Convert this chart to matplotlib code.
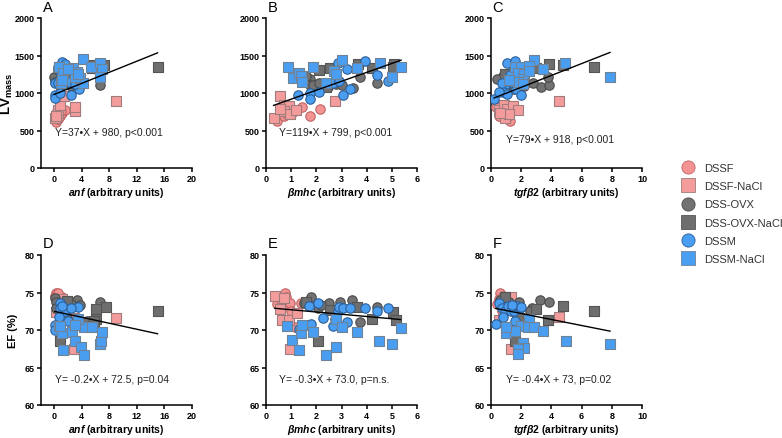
import matplotlib
matplotlib.use("Agg")
import matplotlib.pyplot as plt
from matplotlib.lines import Line2D

plt.rcParams['font.family'] = ['Liberation Sans', 'DejaVu Sans']
plt.rcParams['mathtext.fontset'] = 'custom'
plt.rcParams['mathtext.it'] = 'Liberation Sans:italic:bold'
plt.rcParams['mathtext.bf'] = 'Liberation Sans:bold'
plt.rcParams['mathtext.rm'] = 'Liberation Sans:bold'

groups = ['DSSF', 'DSSF-NaCl', 'DSS-OVX', 'DSS-OVX-NaCl', 'DSSM', 'DSSM-NaCl']
markers = ['o', 's', 'o', 's', 'o', 's']
fills = ['#F39393', '#F49C9C', '#727272', '#6E6E6E', '#4A9EF2', '#4A9EF2']
edges = ['#C06464', '#A07C7C', '#4A4A4A', '#555555', '#2D5F97', '#6F8296']

# panel A: anf vs LV mass
anf_lv_x = [[0.3, 0.6, 0.9, 1.2, 1.6, 0.4, 1.0, 0.2],
            [0.1, 0.5, 0.5, 0.8, 1.5, 3.0, 3.0, 9.0, 0.3],
            [0.0, 0.2, 0.5, 1.0, 2.5, 3.2, 3.5, 6.7, 1.8, 0.8, 2.9],
            [15.0, 5.8, 6.2, 7.3, 0.7, 2.8, 5.5],
            [1.1, 1.6, 0.6, 0.1, 0.1, 0.2, 0.9, 2.5, 3.6, 2.2, 1.3, 1.8, 0.5, 3.0, 1.0],
            [4.2, 0.7, 1.3, 2.8, 3.3, 3.8, 5.4, 6.7, 7.0, 6.7, 4.2, 1.0, 3.0, 3.5, 2.0, 1.1]]
anf_lv_y = [[620, 650, 700, 730, 780, 760, 760, 700],
            [670, 740, 780, 840, 965, 760, 820, 890, 700],
            [1220, 1150, 1310, 1230, 1090, 1250, 1230, 1110, 1140, 1100, 1120],
            [1350, 1370, 1340, 1380, 1350, 1220, 1330],
            [1420, 1390, 1350, 1130, 980, 930, 1000, 980, 1050, 1150, 1240, 1300, 1140, 1120, 1250],
            [1450, 1350, 1270, 1340, 1280, 1200, 1350, 1400, 1320, 1210, 1130, 1140, 1210, 1250, 1320, 1170]]

# panel B: bmhc vs LV mass
bmhc_lv_x = [[0.44, 0.73, 0.94, 1.07, 1.43, 1.76, 2.14, 0.85],
             [0.3, 0.55, 0.7, 0.9, 0.7, 0.94, 1.2, 2.73, 0.57],
             [1.76, 1.57, 1.74, 1.86, 2.1, 2.47, 2.8, 3.0, 3.44, 3.73, 4.42, 1.4],
             [2.1, 2.56, 3.66, 4.23, 5.08, 5.04, 2.4],
             [1.27, 1.76, 1.76, 2.1, 2.67, 2.9, 2.85, 3.2, 3.06, 3.32, 3.92, 4.42, 4.84],
             [0.86, 1.06, 1.32, 1.4, 1.43, 1.86, 2.37, 2.7, 2.8, 3.0, 3.6, 4.52, 5.0, 5.37]]
bmhc_lv_y = [[625, 700, 745, 753, 820, 687, 789, 720],
             [669, 966, 842, 824, 766, 722, 775, 890, 789],
             [1187, 1222, 1107, 1107, 1134, 1076, 1120, 1112, 1063, 1218, 1134, 1180],
             [1307, 1333, 1386, 1329, 1386, 1342, 1085],
             [979, 996, 921, 1010, 1134, 1165, 1400, 1320, 979, 1054, 1422, 1240, 1160],
             [1351, 1200, 1271, 1222, 1152, 1342, 1130, 1298, 1254, 1444, 1329, 1400, 1209, 1351]]

# panel C: tgfb2 vs LV mass
tgf_lv_x = [[0.3, 0.6, 0.9, 1.26, 0.8, 0.5, 1.1],
            [0.5, 0.86, 1.04, 1.48, 1.77, 0.93, 4.48, 1.2, 0.6],
            [2.8, 3.29, 3.86, 3.75, 0.77, 0.4, 1.2, 1.5, 0.9, 2.2],
            [2.98, 3.82, 4.75, 6.8, 1.5, 0.9],
            [1.04, 1.57, 1.26, 1.0, 0.82, 1.08, 1.66, 1.97, 1.57, 0.2, 0.5, 1.3, 0.7],
            [2.87, 1.59, 1.99, 2.52, 3.44, 4.92, 7.88, 1.81, 2.21, 2.14, 1.81, 2.1, 1.2, 2.5]]
tgf_lv_y = [[810, 700, 740, 622, 760, 690, 690],
            [780, 840, 787, 822, 773, 667, 889, 720, 730],
            [1133, 1076, 1111, 1218, 1222, 1190, 1100, 1050, 1150, 1100],
            [1329, 1382, 1378, 1351, 1300, 1250],
            [1400, 1427, 1240, 1120, 1009, 987, 1053, 978, 1187, 920, 1010, 1150, 1130],
            [1445, 1343, 1351, 1356, 1320, 1396, 1213, 1267, 1253, 1187, 1142, 1120, 1180, 1300]]

# panel D: anf vs EF
anf_ef_x = [[0.3, 0.1, 0.8, 1.1, 0.6, 1.3, 0.5, 1.6],
            [0.3, 0.6, 2.9, 2.9, 9.0, 1.2, 1.8],
            [0.15, 0.3, 0.3, 3.3, 6.7, 2.5, 3.7, 4.7, 1.8],
            [0.8, 15.0, 6.1, 7.5, 6.1, 5.8, 1.9],
            [0.8, 0.8, 1.6, 3.5, 2.4, 2.0, 0.7, 0.1, 0.1, 1.2],
            [0.7, 1.1, 1.3, 2.6, 3.0, 3.9, 4.4, 4.3, 5.5, 6.7, 6.8, 7.0, 3.4, 3.1, 0.9]]
anf_ef_y = [[75.0, 74.6, 74.2, 74.4, 73.8, 73.7, 74.9, 73.4],
            [72.4, 72.9, 71.6, 67.5, 71.6, 74.2, 73.6],
            [74.3, 73.7, 73.0, 74.0, 73.8, 73.5, 73.4, 71.2, 71.6],
            [68.5, 72.5, 71.5, 73.1, 72.8, 71.2, 73.9],
            [73.6, 73.0, 72.5, 73.1, 73.0, 71.2, 71.7, 70.7, 70.0, 73.2],
            [70.6, 69.6, 67.3, 69.8, 68.6, 67.7, 66.7, 70.4, 70.4, 68.1, 68.5, 69.8, 71.5, 70.7, 70.5]]

# panel E: bmhc vs EF
bmhc_ef_x = [[0.44, 0.7, 0.75, 0.8, 0.95, 1.0, 1.15, 1.4, 0.6],
             [0.35, 0.55, 0.65, 0.7, 0.9, 0.95, 1.25],
             [1.5, 1.65, 1.8, 2.05, 2.5, 2.95, 3.4, 3.75, 4.4, 2.2],
             [2.05, 2.55, 3.6, 4.2, 5.05, 5.15, 1.6],
             [1.7, 1.8, 2.05, 2.25, 2.65, 2.75, 2.85, 2.9, 3.05, 3.2, 3.35, 3.95, 4.4, 4.85, 1.3],
             [0.85, 1.05, 1.3, 1.4, 1.45, 1.85, 2.4, 2.8, 2.8, 3.0, 3.6, 4.5, 5.0, 5.35]]
bmhc_ef_y = [[73.5, 73.4, 75.0, 74.4, 73.6, 72.5, 70.4, 73.6, 74.0],
             [74.6, 72.8, 71.4, 74.3, 71.4, 67.4, 72.3],
             [73.6, 73.9, 74.4, 73.0, 73.6, 73.8, 74.0, 71.1, 73.1, 73.3],
             [68.5, 72.7, 73.1, 71.5, 72.4, 71.3, 73.7],
             [73.2, 70.8, 73.6, 71.6, 70.5, 71.5, 72.6, 73.1, 73.0, 71.1, 73.0, 73.0, 72.5, 73.0, 70.1],
             [70.5, 68.7, 67.3, 69.6, 70.7, 69.8, 66.7, 67.7, 71.5, 70.4, 69.8, 68.5, 68.1, 70.3]]

# panel F: tgfb2 vs EF
tgf_ef_x = [[0.6, 0.8, 0.5, 1.0, 0.4, 0.7, 1.2, 1.6],
            [4.5, 1.3, 0.5, 1.3, 1.7, 0.8],
            [3.25, 3.86, 2.74, 1.88, 0.6, 1.2, 1.4, 2.6],
            [4.75, 2.96, 6.8, 3.8, 1.85, 1.6, 0.9],
            [0.3, 0.5, 0.7, 0.9, 1.1, 1.3, 1.5, 1.7, 1.9, 0.8, 1.6, 1.1, 2.0, 1.4],
            [2.54, 2.0, 2.47, 2.87, 3.47, 1.0, 1.6, 4.94, 7.88, 2.1, 2.2, 1.8, 1.8, 1.0]]
tgf_ef_y = [[75.0, 74.6, 74.2, 74.3, 73.5, 72.5, 74.0, 73.6],
            [71.7, 67.4, 71.4, 74.4, 72.4, 73.9],
            [74.0, 73.8, 72.9, 73.7, 74.0, 73.7, 73.2, 72.6],
            [73.2, 72.8, 72.5, 71.3, 71.6, 68.5, 74.4],
            [70.8, 73.6, 73.0, 72.6, 73.2, 72.6, 72.6, 73.2, 73.0, 71.7, 71.2, 70.1, 73.1, 73.3],
            [71.5, 70.5, 70.4, 70.4, 69.9, 69.6, 69.9, 68.5, 68.1, 68.3, 67.6, 67.4, 66.8, 70.4]]

# regression: slope, intercept, text
slopes = [37, 119, 79, -0.2, -0.3, -0.4]
intercepts = [980, 799, 918, 72.5, 73.0, 73]
eq_texts = ['Y=37•X + 980, p<0.001', 'Y=119•X + 799, p<0.001', 'Y=79•X + 918, p<0.001',
            'Y= -0.2•X + 72.5, p=0.04', 'Y= -0.3•X + 73.0, p=n.s.', 'Y= -0.4•X + 73, p=0.02']
letters = ['A', 'B', 'C', 'D', 'E', 'F']
xlabels = [r'$\mathit{anf}$ (arbitrary units)', r'$\mathit{βmhc}$ (arbitrary units)',
           r'$\mathit{tgfβ2}$ (arbitrary units)']

panels_x = [anf_lv_x, bmhc_lv_x, tgf_lv_x, anf_ef_x, bmhc_ef_x, tgf_ef_x]
panels_y = [anf_lv_y, bmhc_lv_y, tgf_lv_y, anf_ef_y, bmhc_ef_y, tgf_ef_y]

fig = plt.figure(figsize=(7.82, 4.39), dpi=100)
lefts = [41, 266, 491]
width = 151
tops = [19, 256]
height = 150
xlims = [(-1.9, 20), (0, 6), (0, 10)]
xticks = [[0, 4, 8, 12, 16, 20], [0, 1, 2, 3, 4, 5, 6], [0, 2, 4, 6, 8, 10]]

for i in range(6):
    row, col = divmod(i, 3)
    ax = fig.add_axes([lefts[col] / 782, 1 - (tops[row] + height) / 439, width / 782, height / 439])
    for g in range(6):
        ax.scatter(panels_x[i][g], panels_y[i][g], marker=markers[g], s=46,
                   facecolor=fills[g], edgecolor=edges[g], linewidth=0.8, zorder=3)
    allx = [v for grp in panels_x[i] for v in grp]
    x0, x1 = min(allx), max(allx)
    ax.plot([x0, x1], [slopes[i] * x0 + intercepts[i], slopes[i] * x1 + intercepts[i]],
            color='black', lw=1.0, zorder=4)
    ax.set_xlim(*xlims[col])
    ax.set_xticks(xticks[col])
    if row == 0:
        ax.set_ylim(0, 2000)
        ax.set_yticks([0, 500, 1000, 1500, 2000])
        eq_y = 480 if col < 2 else 380
    else:
        ax.set_ylim(60, 80)
        ax.set_yticks([60, 65, 70, 75, 80])
        eq_y = 63.4
    eq_x = [0.1, 0.5, 1.0][col]
    ax.text(eq_x, eq_y, eq_texts[i], fontsize=7.5, color='#222222', va='center', ha='left')
    for s in ['top', 'right']:
        ax.spines[s].set_visible(False)
    for s in ['left', 'bottom']:
        ax.spines[s].set_linewidth(1.1)
    ax.tick_params(length=3, width=1.1, labelsize=6.5, pad=1.5)
    for lab in ax.get_xticklabels() + ax.get_yticklabels():
        lab.set_fontweight('bold')
    ax.set_xlabel(xlabels[col], fontsize=7.5, fontweight='bold', labelpad=1)
    if col == 0:
        if row == 0:
            ax.set_ylabel(r'$\mathbf{LV}_{\mathbf{mass}}$', fontsize=9.5)
            ax.yaxis.set_label_coords(-0.17, 0.5)
        else:
            ax.set_ylabel('EF (%)', fontsize=8, fontweight='bold')
            ax.yaxis.set_label_coords(-0.15, 0.5)
    ax.text(0.01, 1.03, letters[i], transform=ax.transAxes, fontsize=10.5, va='bottom', ha='left')

handles = [Line2D([], [], marker=markers[g], linestyle='none', markersize=9.5,
                  markerfacecolor=fills[g], markeredgecolor=edges[g], markeredgewidth=0.6)
           for g in range(6)]
fig.legend(handles, groups, loc='upper left', bbox_to_anchor=(672 / 782, 1 - 154 / 439),
           frameon=False, fontsize=8, labelspacing=0.74, handletextpad=1.0,
           handlelength=1.0, labelcolor='#333333')

fig.savefig('out.png', dpi=100)
